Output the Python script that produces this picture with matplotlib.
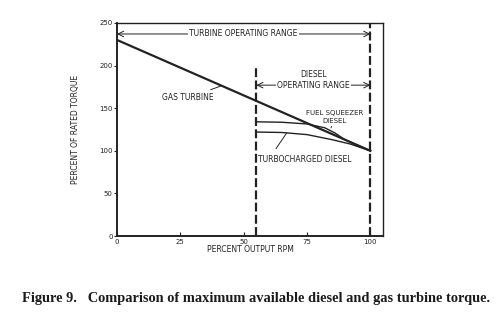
import matplotlib
matplotlib.use('Agg')
import matplotlib.pyplot as plt

# data
#
gas_rpm = [0, 100]
gas_torque = [230, 100]

squeezer_rpm = [55, 65, 75, 82, 86, 90, 95, 100]
squeezer_torque = [134, 133.5, 131.5, 127, 121, 113, 106.5, 100]

turbo_rpm = [55, 65, 75, 85, 92, 100]
turbo_torque = [122, 121.5, 119, 113, 108, 100]

xticks = [0, 25, 50, 75, 100]
yticks = [0, 50, 100, 150, 200, 250]

diesel_start = 55
turbine_end = 100

plt.rcParams['font.family'] = ['Liberation Sans Narrow', 'DejaVu Sans']
ink = '#222222'

# plot
#
fig = plt.figure(figsize=(5, 3.27), dpi=100)
ax = fig.add_axes([0.234, 0.278, 0.532, 0.652])

ax.plot(gas_rpm, gas_torque, color=ink, linewidth=1.6)
ax.plot(squeezer_rpm, squeezer_torque, color=ink, linewidth=1.0)
ax.plot(turbo_rpm, turbo_torque, color=ink, linewidth=1.0)

ax.plot([diesel_start, diesel_start], [0, 200], color=ink, linewidth=1.6, linestyle=(0, (4, 1.5)))
ax.plot([turbine_end, turbine_end], [0, 250], color=ink, linewidth=1.6, linestyle=(0, (4, 1.5)))

# ranges
#
ax.annotate('', xy=(0, 237), xytext=(100, 237),
            arrowprops=dict(arrowstyle='<->', color=ink, lw=0.7, shrinkA=0, shrinkB=0))
ax.text(50, 237, 'TURBINE OPERATING RANGE', ha='center', va='center', fontsize=5.5,
        color=ink, bbox=dict(facecolor='white', edgecolor='none', pad=1))

ax.annotate('', xy=(diesel_start, 177), xytext=(100, 177),
            arrowprops=dict(arrowstyle='<->', color=ink, lw=0.7, shrinkA=0, shrinkB=0))
ax.text(77.5, 177, 'OPERATING RANGE', ha='center', va='center', fontsize=5.5,
        color=ink, bbox=dict(facecolor='white', edgecolor='none', pad=1))
ax.text(77.5, 189, 'DIESEL', ha='center', va='center', fontsize=5.5, color=ink)

# labels
#
ax.annotate('GAS TURBINE', xy=(41, 176), xytext=(28, 162), ha='center', va='center',
            fontsize=5.5, color=ink,
            arrowprops=dict(arrowstyle='-', color=ink, lw=0.7, shrinkA=2, shrinkB=0))
ax.annotate('FUEL SQUEEZER\nDIESEL', xy=(84.5, 127), xytext=(86, 140), ha='center', va='center',
            fontsize=5, color=ink, linespacing=1.4,
            arrowprops=dict(arrowstyle='-', color=ink, lw=0.7, shrinkA=4, shrinkB=0))
ax.annotate('TURBOCHARGED DIESEL', xy=(67, 121), xytext=(74, 90), ha='center', va='center',
            fontsize=5.5, color=ink,
            arrowprops=dict(arrowstyle='-', color=ink, lw=0.7, shrinkA=3, shrinkB=0,
                            relpos=(0.15, 1.0)))

# axes
#
ax.set_xlim(0, 105)
ax.set_ylim(0, 250)
ax.set_xticks(xticks)
ax.set_yticks(yticks)
ax.tick_params(axis='x', direction='in', length=3, labelsize=5, colors=ink, pad=2)
ax.tick_params(axis='y', direction='out', length=2, labelsize=5, colors=ink, pad=1)
for s in ax.spines.values():
    s.set_color(ink)
    s.set_linewidth(1.0)
ax.spines['left'].set_linewidth(1.4)
ax.spines['bottom'].set_linewidth(1.4)

ax.set_xlabel('PERCENT OUTPUT RPM', fontsize=5.5, color=ink, labelpad=0)
ax.set_ylabel('PERCENT OF RATED TORQUE', fontsize=5.5, color=ink, labelpad=14)

fig.text(0.044, 0.088, 'Figure 9.   Comparison of maximum available diesel and gas turbine torque.',
         fontsize=10.4, fontweight='bold', family='Liberation Serif', color='#1a1a1a',
         ha='left', va='center')

# output
#
plt.savefig('out.png', dpi=100)
